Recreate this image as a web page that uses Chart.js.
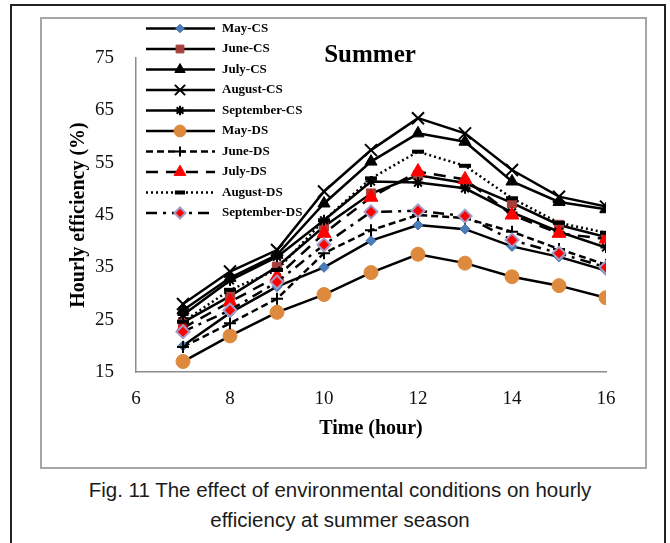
<!DOCTYPE html>
<html>
<head>
<meta charset="utf-8">
<script src="https://cdn.jsdelivr.net/npm/chart.js@4"></script>
<style>
  body { margin: 0; width: 670px; height: 543px; overflow: hidden; background: #fff; position: relative; }
  .frame { position: absolute; left: 10px; top: 4px; width: 652px; height: 600px; border: 2px solid #222; border-bottom: none; }
  .plotbox { position: absolute; left: 40px; top: 17px; width: 603px; height: 448px; border: 2px solid #a6a6a6; }
  .caption { position: absolute; left: 0; width: 680px; top: 475px; text-align: center;
    font: 20.5px "Liberation Sans", Arial, sans-serif; line-height: 30px; color: #1a1a1a; }
  canvas { position: absolute; left: 0; top: 0; }
</style>
</head>
<body>
<div class="frame"></div>
<div class="plotbox"></div>
<div class="caption">Fig. 11 The effect of environmental conditions on hourly<br>efficiency at summer season</div>
<canvas id="chart" width="670" height="543"></canvas>
<script>
// hours of the day
const hours = [7, 8, 9, 10, 11, 12, 13, 14, 15, 16];

const seriesNames = ['May-CS', 'June-CS', 'July-CS', 'August-CS', 'September-CS',
                     'May-DS', 'June-DS', 'July-DS', 'August-DS', 'September-DS'];

// hourly efficiency (%)
const mayCS    = [20.0, 26.3, 31.3, 35.0, 40.1, 43.1, 42.3, 39.0, 37.0, 34.4];
const juneCS   = [24.5, 29.5, 35.1, 42.8, 49.1, 52.6, 51.1, 47.3, 43.1, 40.8];
const julyCS   = [26.8, 33.0, 37.4, 47.2, 55.2, 60.6, 59.0, 51.4, 47.5, 46.1];
const augustCS = [28.0, 34.2, 38.3, 49.5, 57.4, 63.5, 60.6, 53.6, 48.5, 46.6];
const septCS   = [25.9, 32.5, 37.0, 44.0, 51.4, 51.2, 50.1, 45.5, 41.8, 38.8];
const mayDS    = [17.0, 21.9, 26.4, 29.8, 34.0, 37.5, 35.8, 33.2, 31.5, 29.2];
const juneDS   = [19.8, 24.3, 29.0, 37.7, 42.1, 45.0, 44.4, 41.8, 38.5, 35.5];
const julyDS   = [23.4, 28.4, 33.2, 41.5, 48.4, 53.3, 51.8, 45.0, 41.5, 40.4];
const augustDS = [24.6, 30.7, 34.5, 44.0, 52.0, 57.1, 54.4, 48.2, 43.5, 41.6];
const septDS   = [22.7, 26.8, 32.2, 39.3, 45.6, 45.8, 44.8, 40.2, 37.7, 35.0];

const seriesValues = [mayCS, juneCS, julyCS, augustCS, septCS, mayDS, juneDS, julyDS, augustDS, septDS];

const xTicks = [6, 8, 10, 12, 14, 16];
const yTicks = [15, 25, 35, 45, 55, 65, 75];

// marker / line look for each series
const looks = [
  { dash: [],            style: 'rectRot',  r: 5,   fill: '#4A7EBB', stroke: '#3E6FA8', bw: 1 },
  { dash: [],            style: 'rect',     r: 6.5, fill: '#A5403D', stroke: '#A5403D', bw: 1 },
  { dash: [],            style: 'triangle', r: 7,   fill: '#000',    stroke: '#000',    bw: 1 },
  { dash: [],            style: 'crossRot', r: 8.5, fill: '#000',    stroke: '#000',    bw: 2 },
  { dash: [],            style: 'star',     r: 5.5, fill: '#000',    stroke: '#000',    bw: 2 },
  { dash: [],            style: 'circle',   r: 7,   fill: '#DE8A3E', stroke: '#DE8A3E', bw: 1 },
  { dash: [7, 4],        style: 'cross',    r: 6,   fill: '#000',    stroke: '#000',    bw: 2 },
  { dash: [12, 8],       style: 'triangle', r: 8,   fill: '#FF0000', stroke: '#FF0000', bw: 1 },
  { dash: [2, 3],        style: 'line',     r: 6,   fill: '#000',    stroke: '#000',    bw: 4 },
  { dash: [11, 6, 3, 6], style: 'rectRot',  r: 6.5, fill: '#FF0000', stroke: '#A29CC6', bw: 2 }
];

const serif = "'Liberation Serif', 'Times New Roman', serif";

const datasets = seriesNames.map((name, i) => ({
  label: name,
  data: hours.map((h, k) => ({ x: h, y: seriesValues[i][k] })),
  borderColor: '#000',
  borderWidth: 2.5,
  borderDash: looks[i].dash,
  pointStyle: looks[i].style,
  pointRadius: looks[i].r,
  pointBackgroundColor: looks[i].fill,
  pointBorderColor: looks[i].stroke,
  pointBorderWidth: looks[i].bw,
  tension: 0,
  order: -i
}));

// legend box and the "Summer" label drawn straight on the canvas
const overlay = {
  id: 'overlay',
  beforeDatasetsDraw(chart) {
    const ctx = chart.ctx;
    ctx.save();
    chart.data.datasets.forEach((ds, i) => {
      const y = 28.5 + i * 20.5;
      ctx.strokeStyle = '#000';
      ctx.lineWidth = 2.5;
      ctx.setLineDash(ds.borderDash);
      ctx.beginPath();
      ctx.moveTo(146, y);
      ctx.lineTo(215, y);
      ctx.stroke();
      ctx.setLineDash([]);
      ctx.fillStyle = ds.pointBackgroundColor;
      ctx.strokeStyle = ds.pointBorderColor;
      ctx.lineWidth = ds.pointBorderWidth;
      if (Chart.helpers && Chart.helpers.drawPoint) {
        Chart.helpers.drawPoint(ctx, {
          pointStyle: ds.pointStyle,
          radius: ds.pointRadius * 0.85,
          rotation: 0,
          borderWidth: ds.pointBorderWidth
        }, 180, y);
      }
      ctx.fillStyle = '#000';
      ctx.font = 'bold 13px ' + serif;
      ctx.textBaseline = 'middle';
      ctx.textAlign = 'left';
      ctx.fillText(ds.label, 222, y);
    });
    ctx.font = 'bold 25px ' + serif;
    ctx.textAlign = 'center';
    ctx.textBaseline = 'middle';
    ctx.fillText('Summer', 370, 56);
    ctx.restore();
  }
};

new Chart(document.getElementById('chart'), {
  type: 'line',
  data: { datasets: datasets },
  plugins: [overlay],
  options: {
    responsive: false,
    animation: false,
    devicePixelRatio: 1,
    layout: { padding: { left: 67, top: 58, right: 64, bottom: 102 } },
    plugins: {
      legend: { display: false },
      tooltip: { enabled: false }
    },
    scales: {
      x: {
        type: 'linear',
        min: 6,
        max: 16,
        afterBuildTicks(s) { s.ticks = xTicks.map(v => ({ value: v })); },
        afterFit(s) { s.height = 69; },
        ticks: { padding: 16, color: '#111', font: { family: serif, size: 19 } },
        grid: { display: false, drawTicks: false },
        border: { display: true, color: '#8c8c8c', width: 1.5 },
        title: { display: true, text: 'Time (hour)', color: '#000', padding: 0,
                 font: { family: serif, size: 20, weight: 'bold' } }
      },
      y: {
        min: 15,
        max: 75,
        afterBuildTicks(s) { s.ticks = yTicks.map(v => ({ value: v })); },
        afterFit(s) { s.width = 69; },
        ticks: { padding: 22, color: '#111', font: { family: serif, size: 19 } },
        grid: { display: false, drawTicks: false },
        border: { display: true, color: '#8c8c8c', width: 1.5 },
        title: { display: true, text: 'Hourly efficiency (%)', color: '#000', padding: 0,
                 font: { family: serif, size: 20, weight: 'bold' } }
      }
    }
  }
});
</script>
</body>
</html>
